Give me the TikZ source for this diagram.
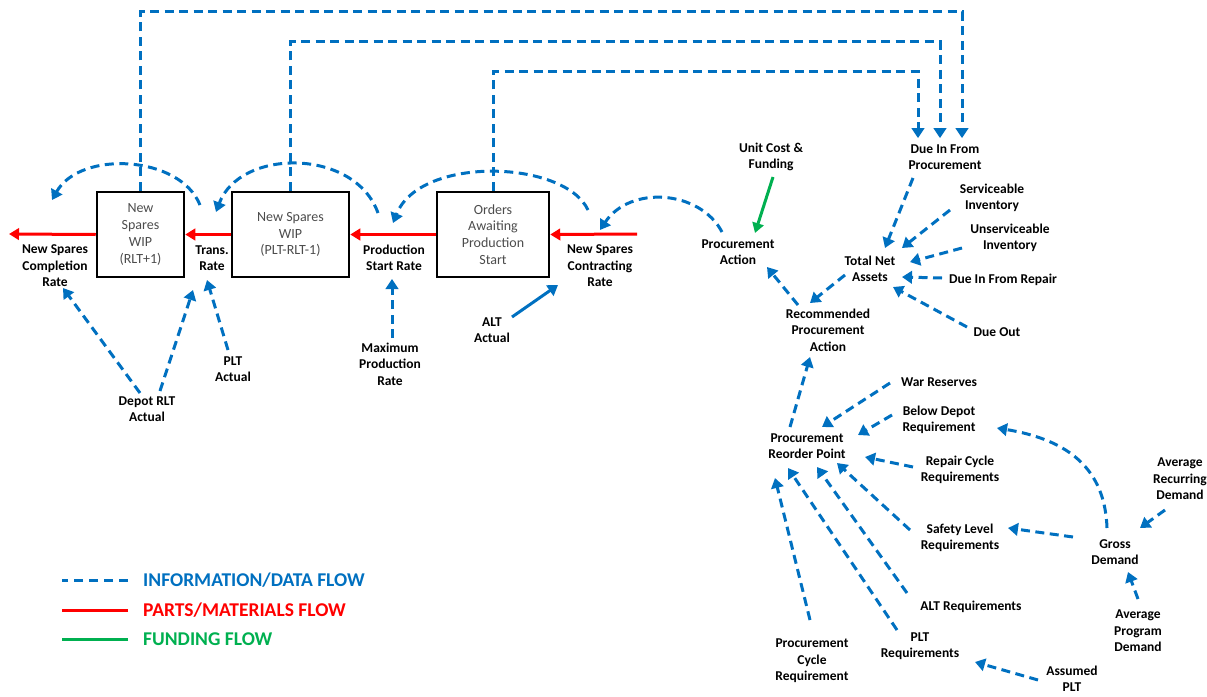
\documentclass[tikz,border=0pt]{standalone}
\usepackage{fontspec}
\setmainfont{Carlito}
\usetikzlibrary{arrows.meta}
\definecolor{infoblue}{RGB}{0,112,192}
\definecolor{partred}{RGB}{255,0,0}
\definecolor{fundgreen}{RGB}{0,176,80}

\begin{document}
\begin{tikzpicture}[x=1pt,y=-1pt,
  lbl/.style={font=\fontsize{13.5}{16.5}\selectfont\bfseries, align=center, inner sep=1pt},
  stock/.style={draw, line width=2.5pt, font=\fontsize{14}{16.7}\selectfont, text=black!70,
                align=center, inner sep=0pt, minimum height=85pt},
  info/.style={infoblue, line width=3pt, dash pattern=on 9pt off 5.5pt,
               -{Triangle[length=10pt,width=12.5pt]}},
  infosolid/.style={infoblue, line width=3pt, -{Triangle[length=10pt,width=12.5pt]}},
  parts/.style={partred, line width=3pt, -{Triangle[length=10pt,width=11.5pt]}},
  fund/.style={fundgreen, line width=3pt, -{Triangle[length=10pt,width=11.5pt]}},
  legendtext/.style={font=\fontsize{19.5}{22}\selectfont\bfseries, anchor=west, inner sep=0pt}]

\useasboundingbox (0,0) rectangle (1207,696);

% ---------- stocks ----------
\node[stock, minimum width=87pt]  (b1) at (140.5,234.5) {New\\Spares\\WIP\\(RLT+1)};
\node[stock, minimum width=117pt] (b2) at (290.5,234.5) {New Spares\\WIP\\(PLT-RLT-1)};
\node[stock, minimum width=112pt] (b3) at (493,234.5)   {Orders\\Awaiting\\Production\\Start};

% ---------- rates and auxiliaries ----------
\node[lbl] (ncr)  at (55,266)  {New Spares\\Completion\\Rate};
\node[lbl] (tr)   at (212,258) {Trans.\\Rate};
\node[lbl] (psr)  at (394,258) {Production\\Start Rate};
\node[lbl] (nscr) at (600,266) {New Spares\\Contracting\\Rate};
\node[lbl] (drlt) at (147,409) {Depot RLT\\Actual};
\node[lbl] (plta) at (233,369) {PLT\\Actual};
\node[lbl] (mpr)  at (390,364) {Maximum\\Production\\Rate};
\node[lbl] (alta) at (492,330) {ALT\\Actual};

\node[lbl] (uc)   at (771,157)  {Unit Cost \&\\Funding};
\node[lbl] (pa)   at (738,252)  {Procurement\\Action};
\node[lbl] (dip)  at (945,157)  {Due In From\\Procurement};
\node[lbl] (si)   at (992,198)  {Serviceable\\Inventory};
\node[lbl] (ui)   at (1010,238) {Unserviceable\\Inventory};
\node[lbl] (tna)  at (870,269)  {Total Net\\Assets};
\node[lbl] (dir)  at (1003,280) {Due In From Repair};
\node[lbl] (dout) at (997,332)  {Due Out};
\node[lbl] (rpa)  at (828,330)  {Recommended\\Procurement\\Action};

\node[lbl] (prp)  at (807,446)  {Procurement\\Reorder Point};
\node[lbl] (wr)   at (939,382)  {War Reserves};
\node[lbl] (bdr)  at (939,420)  {Below Depot\\Requirement};
\node[lbl] (rcr)  at (960,470)  {Repair Cycle\\Requirements};
\node[lbl] (slr)  at (960,538)  {Safety Level\\Requirements};
\node[lbl] (altr) at (971,607)  {ALT Requirements};
\node[lbl] (pltr) at (920,646)  {PLT\\Requirements};
\node[lbl] (pcr)  at (812,661)  {Procurement\\Cycle\\Requirement};
\node[lbl] (apl)  at (1072,679) {Assumed\\PLT};
\node[lbl] (gd)   at (1115,552) {Gross\\Demand};
\node[lbl] (ard)  at (1180,479) {Average\\Recurring\\Demand};
\node[lbl] (apd)  at (1138,631) {Average\\Program\\Demand};

% ---------- material flow ----------
\coordinate (outflow) at (9,234);
\coordinate (inflow)  at (637,234);
\draw[parts] (b1.west) -- (outflow);
\draw[parts] (b2.west) -- (b1.east);
\draw[parts] (b3.west) -- (b2.east);
\draw[parts] (inflow) -- (b3.east);

% ---------- stock levels fed to procurement ----------
\draw[info, shorten >=5pt] (b1.north) -- ++(0,-179) -| ([xshift=17pt]dip.north);
\draw[info, shorten >=5pt] (b2.north) -- ++(0,-149) -| ([xshift=-5pt]dip.north);
\draw[info, shorten >=5pt] (b3.north) -- ++(0,-119) -| ([xshift=-27pt]dip.north);

% ---------- arcs over the stocks ----------
\draw[info] ([shift={(-12,-53)}]tr.center) .. controls +(-20,-50) and +(28,-50) .. ([shift={(-3,-66)}]ncr.center);
\draw[info] ([shift={(-16,-45)}]psr.center) .. controls +(-23,-65) and +(24,-64) .. ([shift={(4,-46)}]tr.center);
\draw[info] ([shift={(-12,-56)}]nscr.center) .. controls +(-23,-50) and +(27,-68) .. ([shift={(-1,-35)}]psr.center);
\draw[info] ([shift={(-16,-20)}]pa.center) .. controls +(-22,-42) and +(30,-45) .. ([shift={(0,-36)}]nscr.center);

% ---------- delays and capacities ----------
\draw[info] ([shift={(-7,-16)}]drlt.center) -- ([shift={(8,22)}]ncr.center);
\draw[info] ([shift={(13,-18)}]drlt.center) -- ([shift={(-19,32)}]tr.center);
\draw[info] ([shift={(-5,-19)}]plta.center) -- ([shift={(-5,22)}]tr.center);
\draw[info] ([shift={(2,-26)}]mpr.center) -- ([shift={(-2,21)}]psr.center);
\draw[infosolid] ([shift={(20,-13)}]alta.center) -- ([shift={(-42,19)}]nscr.center);

% ---------- asset position ----------
\draw[info] ([shift={(-32,21)}]dip.center) -- ([shift={(15,-21)}]tna.center);
\draw[info] ([shift={(-42,12)}]si.center) -- ([shift={(32,-21)}]tna.center);
\draw[info] ([shift={(-48,10)}]ui.center) -- ([shift={(40,-7)}]tna.center);
\draw[info] ([shift={(-61,-2)}]dir.center) -- ([shift={(32,8)}]tna.center);
\draw[info] ([shift={(-30,-5)}]dout.center) -- ([shift={(23,18)}]tna.center);
\draw[info] ([shift={(-25,6)}]tna.center) -- ([shift={(-18,-27)}]rpa.center);
\draw[info] ([shift={(-30,-25)}]rpa.center) -- ([shift={(29,15)}]pa.center);
\draw[fund] ([shift={(2,20)}]uc.center) -- ([shift={(17,-19)}]pa.center);

% ---------- reorder point ----------
\draw[info] ([shift={(-17,-19)}]prp.center) -- ([shift={(-18,27)}]rpa.center);
\draw[info] ([shift={(-49,1)}]wr.center) -- ([shift={(15,-19)}]prp.center);
\draw[info] ([shift={(-47,-5)}]bdr.center) -- ([shift={(51,-11)}]prp.center);
\draw[info] ([shift={(-47,-3)}]rcr.center) -- ([shift={(58,11)}]prp.center);
\draw[info] ([shift={(-50,-8)}]slr.center) -- ([shift={(30,17)}]prp.center);
\draw[info] ([shift={(-64,-14)}]altr.center) -- ([shift={(10,21)}]prp.center);
\draw[info] ([shift={(-23,-16)}]pltr.center) -- ([shift={(-19,22)}]prp.center);
\draw[info] ([shift={(-2,-41)}]pcr.center) -- ([shift={(-32,32)}]prp.center);
\draw[info] ([shift={(-34,1)}]apl.center) -- ([shift={(55,16)}]pltr.center);

% ---------- demand ----------
\draw[info] ([shift={(-8,-24)}]gd.center) .. controls +(-2,-58) and +(73,12) .. ([shift={(58,8)}]bdr.center);
\draw[info] ([shift={(-42,-15)}]gd.center) -- ([shift={(48,-10)}]slr.center);
\draw[info] ([shift={(-15,31)}]ard.center) -- ([shift={(25,-24)}]gd.center);
\draw[info] ([shift={(0,-32)}]apd.center) -- ([shift={(13,20)}]gd.center);

% ---------- legend ----------
\node[legendtext, text=infoblue]  (lg1) at (143,580) {INFORMATION/DATA FLOW};
\node[legendtext, text=partred]   (lg2) at (143,610) {PARTS/MATERIALS FLOW};
\node[legendtext, text=fundgreen] (lg3) at (143,639) {FUNDING FLOW};
\draw[infoblue, line width=3pt, dash pattern=on 9pt off 6pt] ([xshift=-15pt]lg1.west) -- ++(-66,0);
\draw[partred, line width=3pt] ([xshift=-15pt]lg2.west) -- ++(-66,0);
\draw[fundgreen, line width=3pt] ([xshift=-15pt]lg3.west) -- ++(-66,0);
\end{tikzpicture}
\end{document}
